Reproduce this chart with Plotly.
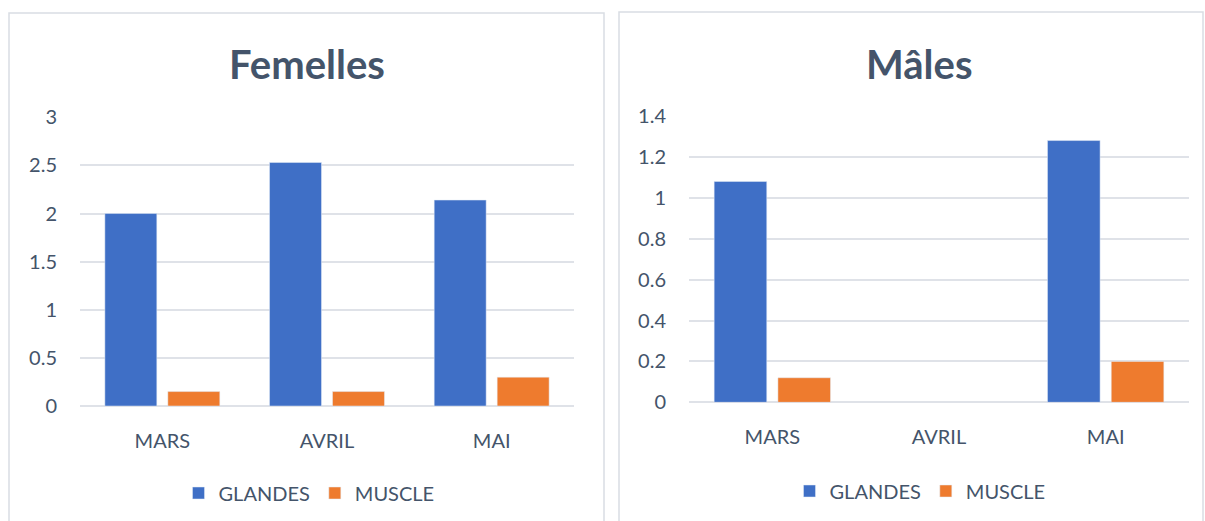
import plotly.graph_objects as go

months = ["MARS", "AVRIL", "MAI"]
fem_glandes = [2.0, 2.53, 2.14]
fem_muscle = [0.15, 0.15, 0.30]
male_glandes = [1.08, None, 1.28]
male_muscle = [0.12, None, 0.20]

W, H = 1205, 521
BLUE = "#3F6FC6"
ORANGE = "#EE7B2E"
TXT = "#44546A"
GRID = "#DFE2E8"
FONT = "Lato"

def px(x):
    return x / W

def py(y):
    return 1 - y / H

fig = go.Figure()
fig.add_trace(go.Bar(x=months, y=fem_glandes, name="GLANDES", marker_color=BLUE,
                     xaxis="x", yaxis="y", legend="legend"))
fig.add_trace(go.Bar(x=months, y=fem_muscle, name="MUSCLE", marker_color=ORANGE,
                     xaxis="x", yaxis="y", legend="legend"))
fig.add_trace(go.Bar(x=months, y=male_glandes, name="GLANDES", marker_color=BLUE,
                     xaxis="x2", yaxis="y2", legend="legend2"))
fig.add_trace(go.Bar(x=months, y=male_muscle, name="MUSCLE", marker_color=ORANGE,
                     xaxis="x2", yaxis="y2", legend="legend2"))

xcommon = dict(showgrid=False, showline=False, zeroline=False, ticks="",
               tickfont=dict(family=FONT, size=20, color=TXT), ticklabelstandoff=21,
               fixedrange=True, automargin=False)
ycommon = dict(showgrid=True, gridcolor=GRID, gridwidth=2, showline=False,
               zeroline=True, zerolinecolor=GRID, zerolinewidth=2, ticks="",
               tickfont=dict(family=FONT, size=20, color=TXT), ticklabelstandoff=22,
               fixedrange=True, automargin=False)

legcommon = dict(orientation="h", xanchor="center", yanchor="middle",
                 xref="container", yref="container",
                 font=dict(family=FONT, size=20, color=TXT), bgcolor="rgba(0,0,0,0)",
                 itemwidth=30, tracegroupgap=0)

fig.update_layout(
    width=W, height=H,
    margin=dict(l=0, r=0, t=0, b=0, autoexpand=False),
    paper_bgcolor="white", plot_bgcolor="white",
    barmode="group", bargap=0.235, bargroupgap=0.175,
    xaxis=dict(domain=[px(80), px(574)], anchor="y", **xcommon),
    yaxis=dict(domain=[py(406), py(117.3)], anchor="x", range=[0, 3], dtick=0.5,
               tickformat="~g", **ycommon),
    xaxis2=dict(domain=[px(689), px(1189)], anchor="y2", **xcommon),
    yaxis2=dict(domain=[py(402.3), py(116)], anchor="x2", range=[0, 1.4], dtick=0.2,
                tickformat="~g", **ycommon),
    legend=dict(x=px(309), y=py(493), **legcommon),
    legend2=dict(x=px(920), y=py(491), **legcommon),
    showlegend=True,
    annotations=[
        dict(text="<b>Femelles</b>", x=px(307), y=py(64), xref="paper", yref="paper",
             showarrow=False, xanchor="center", yanchor="middle",
             font=dict(family=FONT, size=40, color=TXT)),
        dict(text="<b>Mâles</b>", x=px(919), y=py(64), xref="paper", yref="paper",
             showarrow=False, xanchor="center", yanchor="middle",
             font=dict(family=FONT, size=40, color=TXT)),
    ],
    shapes=[
        dict(type="rect", xref="paper", yref="paper", x0=px(9), x1=px(604),
             y0=py(560), y1=py(13), line=dict(color="#D9DDE3", width=1.5),
             fillcolor="rgba(0,0,0,0)", layer="below"),
        dict(type="rect", xref="paper", yref="paper", x0=px(619), x1=px(1203),
             y0=py(560), y1=py(12), line=dict(color="#D9DDE3", width=1.5),
             fillcolor="rgba(0,0,0,0)", layer="below"),
    ],
)

fig.write_html("out.html")
